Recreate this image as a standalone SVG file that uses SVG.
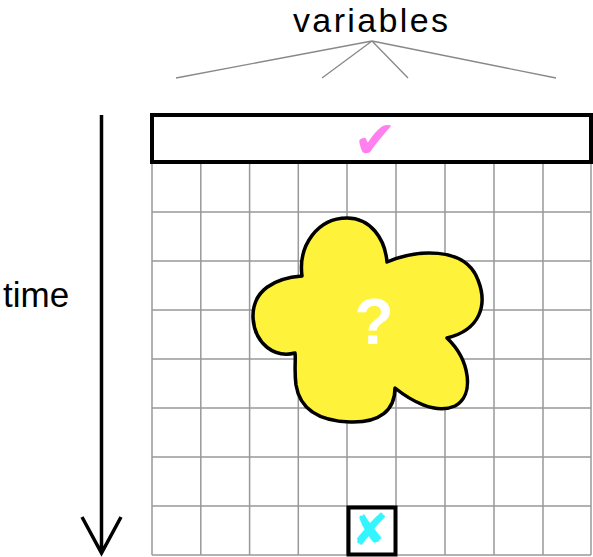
<svg xmlns="http://www.w3.org/2000/svg" width="593" height="557" viewBox="0 0 593 557">
<style>
.lbl{font-family:"Liberation Sans",Arial,sans-serif;fill:#000}
.grid line{stroke:#999;stroke-width:1.5}
.fan{stroke:#888;stroke-width:1.3;fill:none}
</style>
<rect width="593" height="557" fill="#fff"/>
<g id="grid" class="grid">
<line x1="152" y1="162" x2="152" y2="555"/>
<line x1="200.8" y1="162" x2="200.8" y2="555"/>
<line x1="249.6" y1="162" x2="249.6" y2="555"/>
<line x1="298.3" y1="162" x2="298.3" y2="555"/>
<line x1="347" y1="162" x2="347" y2="555"/>
<line x1="396" y1="162" x2="396" y2="555"/>
<line x1="445" y1="162" x2="445" y2="555"/>
<line x1="494" y1="162" x2="494" y2="555"/>
<line x1="543" y1="162" x2="543" y2="555"/>
<line x1="591" y1="162" x2="591" y2="555"/>
<line x1="152" y1="212" x2="591" y2="212"/>
<line x1="152" y1="261" x2="591" y2="261"/>
<line x1="152" y1="310" x2="591" y2="310"/>
<line x1="152" y1="359" x2="591" y2="359"/>
<line x1="152" y1="408" x2="591" y2="408"/>
<line x1="152" y1="457" x2="591" y2="457"/>
<line x1="152" y1="506" x2="591" y2="506"/>
<line x1="152" y1="555" x2="591" y2="555"/>
</g>
<g id="connectors">
<path class="fan" d="M372,41 L176,78 M372,41 L322,78 M372,41 L408,78 M372,41 L556,78"/>
<path d="M101.5,115 L101.5,553 M82,517 L101.5,553 L121,517" fill="none" stroke="#000" stroke-width="3.5"/>
</g>
<g id="variables-label"><text class="lbl" x="293" y="32" font-size="34" textLength="155" lengthAdjust="spacing">variables</text></g>
<g id="time-label"><text class="lbl" x="3" y="307" font-size="35">time</text></g>
<g id="initial-row">
<rect x="152" y="115" width="439" height="47" fill="#fff" stroke="#000" stroke-width="4"/>
<text x="375" y="158" font-family="DejaVu Sans,sans-serif" font-size="52" fill="#FF80EE" text-anchor="middle">✔</text>
</g>
<g id="unknown-cloud">
<path d="M302,276 C298,245 318,218 347,218 C370,218 385,238 387,262 C415,250 465,245 478,280 C488,305 480,330 447,338 C470,360 475,395 455,406 C435,415 410,400 395,388 C395,410 380,423 350,422 C320,421 300,410 296,385 C294,370 296,358 295,353 C275,358 255,345 253,318 C252,290 275,278 302,276 Z" fill="#FFF23A" stroke="#000" stroke-width="3.5" stroke-linejoin="round"/>
<text x="374" y="344" font-family="Liberation Sans,Arial,sans-serif" font-weight="bold" font-size="64" fill="#fff" text-anchor="middle">?</text>
</g>
<g id="final-cell">
<rect x="348.5" y="507.5" width="47" height="47" fill="#fff" stroke="#000" stroke-width="4"/>
<text x="370" y="545" font-family="DejaVu Sans,sans-serif" font-size="44" fill="#33F5FF" text-anchor="middle">✘</text>
</g>
</svg>
